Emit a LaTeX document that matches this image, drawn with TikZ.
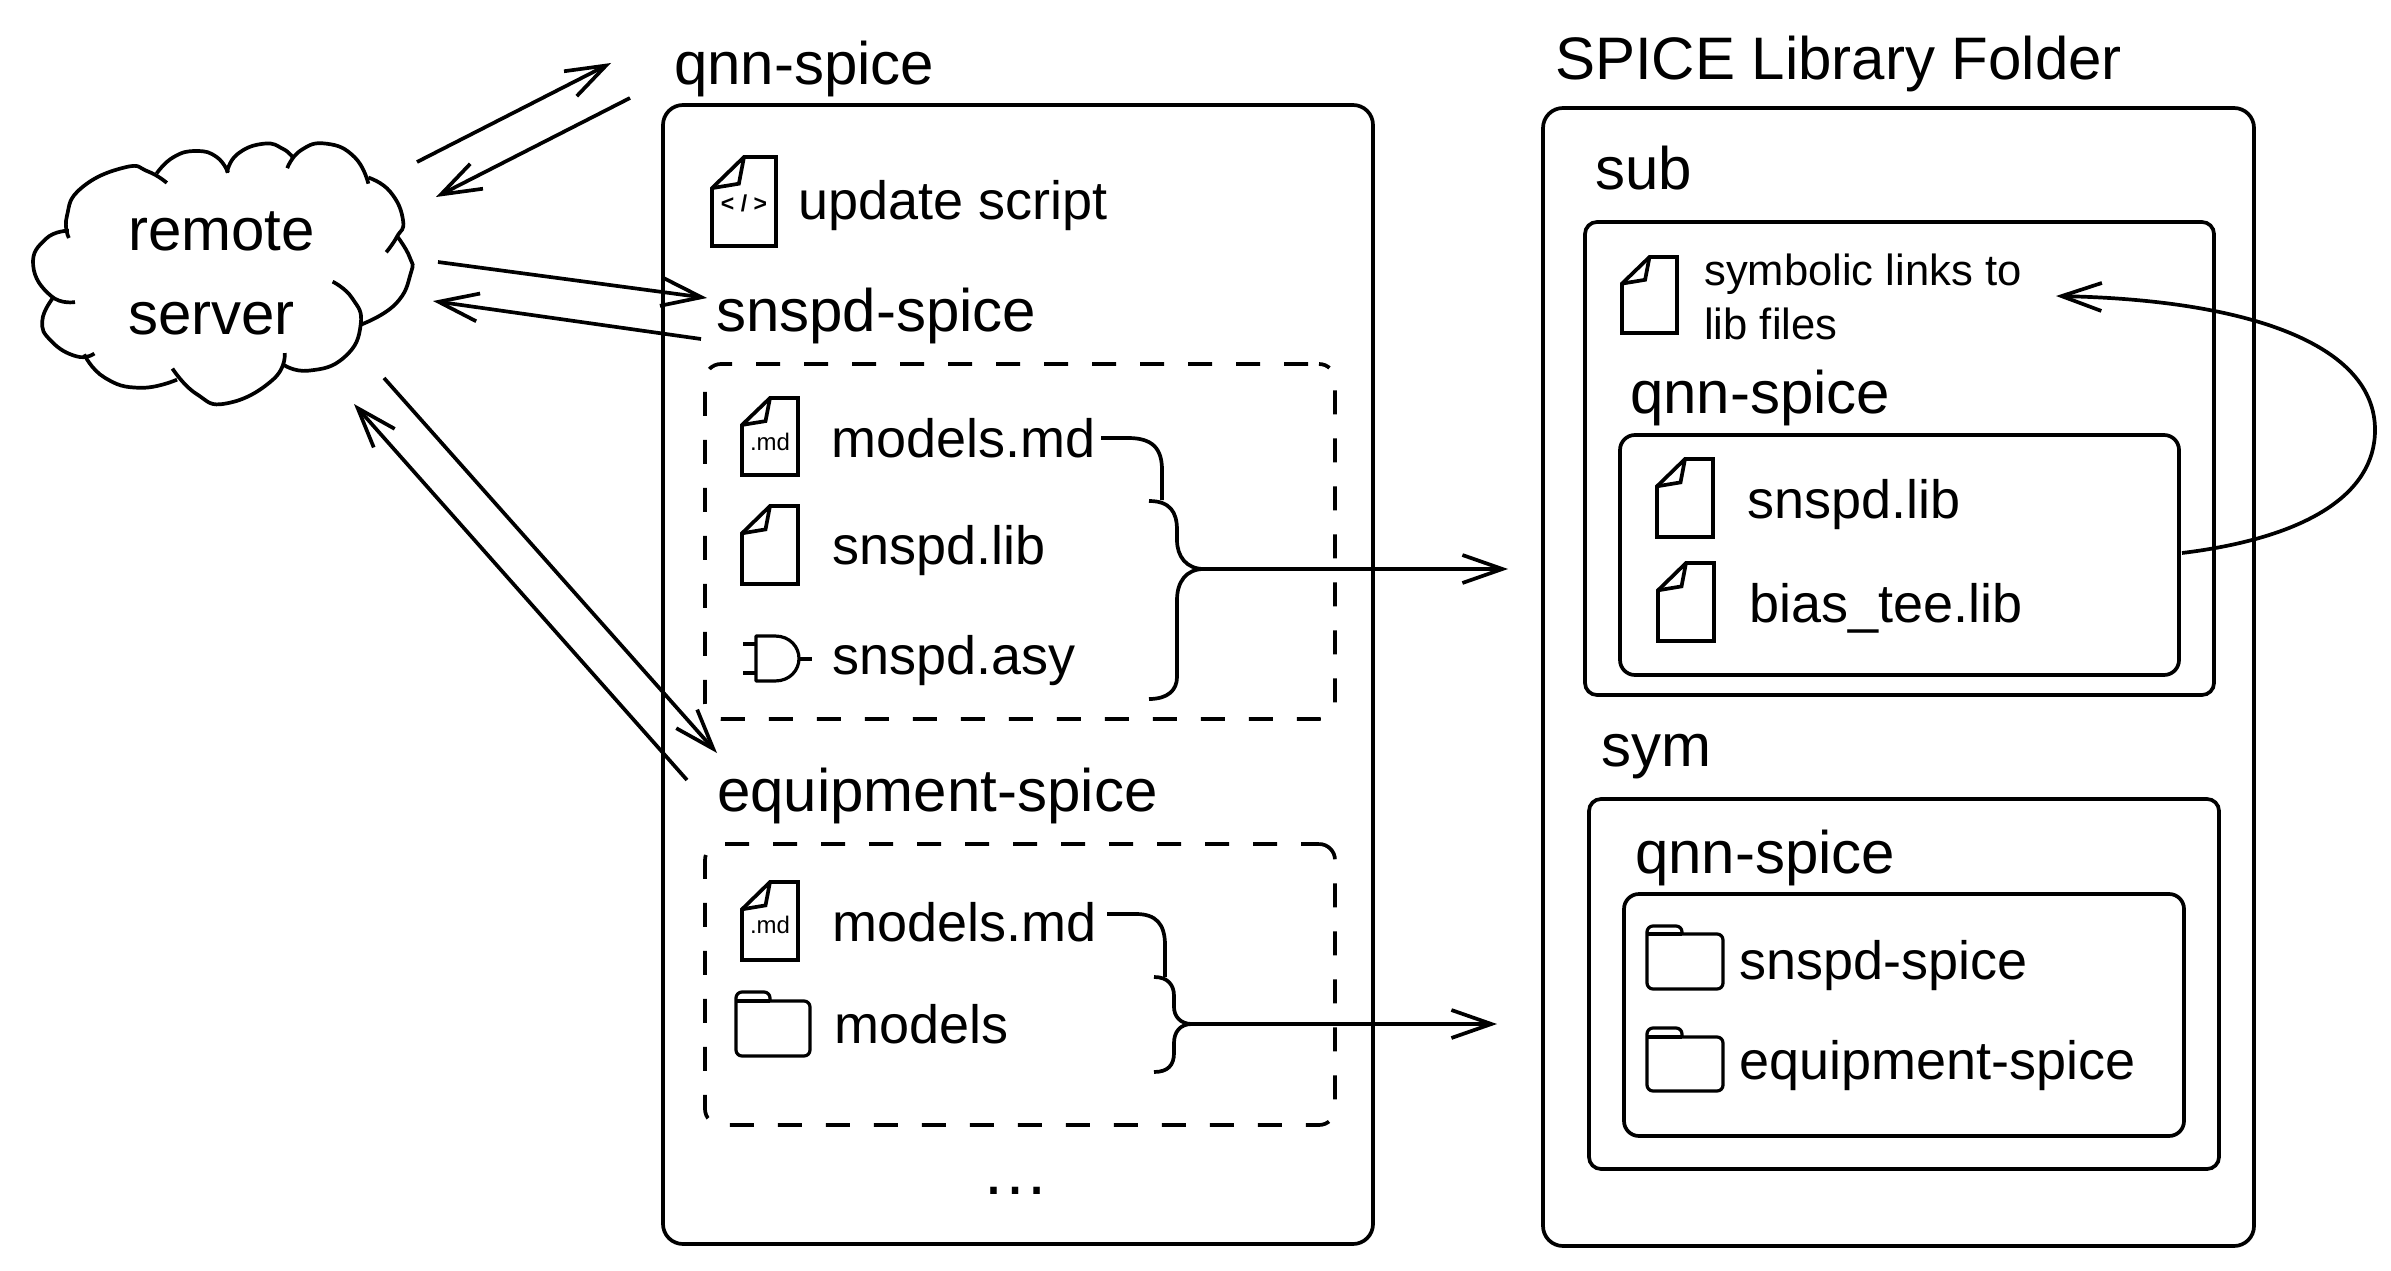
\documentclass[tikz,border=0pt]{standalone}
\usepackage{fontspec}
\setmainfont{Liberation Sans}
\usetikzlibrary{arrows.meta,fit}
\tikzset{
  x=1pt,y=-1pt,
  ln/.style={line width=3.7pt,line join=round},
  solidbox/.style={draw,line width=3.7pt,inner sep=0pt,rounded corners=#1},
  solidbox/.default=12pt,
  dashbox/.style={draw,line width=3.7pt,inner sep=0pt,rounded corners=16pt,dash pattern=on 24pt off 24pt,dash phase=#1},
  big/.style={anchor=base west,inner sep=0pt,yshift=-1.5pt,font=\fontsize{60}{72}\selectfont},
  mid/.style={anchor=base west,inner sep=0pt,yshift=-1.5pt,font=\fontsize{54}{64}\selectfont},
  small/.style={anchor=base west,inner sep=0pt,yshift=-1.5pt,font=\fontsize{43.6}{54}\selectfont,align=left},
  tiny/.style={anchor=base,inner sep=0pt,font=\fontsize{24}{28}\selectfont},
  openarrow/.style={ln,-{Straight Barb[length=40pt,width=28pt,line width=3.7pt]}},
  iconline/.style={line width=3.7pt,line join=miter},
}
\newcommand{\fileicon}[4]{%
  \begin{scope}[shift={(#1,#2)},xscale=#3,yscale=#4]
    \draw[iconline] (0,.35)--(.5,0)--(1,0)--(1,1)--(0,1)--cycle;
    \draw[iconline] (.5,0)--(.42,.3)--(0,.35);
  \end{scope}}
\newcommand{\foldericon}[6]{%
  \draw[line width=3.2pt,rounded corners=6pt] (#5,#6)--(#5,#2)--(#1,#2)--(#1,#4)--(#3,#4)--(#3,#6)--(#5,#6);
  \draw[line width=3.2pt] (#1,#6)--(#5,#6);}
\begin{document}
\begin{tikzpicture}
\useasboundingbox[fill=white] (0,0) rectangle (2391,1271);

% cloud
\begin{scope}[xscale=0.5102,yscale=0.4082,line width=3.7pt]
\draw plot[smooth,tension=0.85] coordinates {(135,583)(131,530)(160,460)(245,410)(290,420)(327,448)};
\draw plot[smooth,tension=0.85] coordinates {(307,425)(340,385)(385,370)(425,385)(447,423)};
\draw plot[smooth,tension=0.85] coordinates {(445,423)(465,378)(517,352)(555,365)(575,388)};
\draw plot[smooth,tension=0.85] coordinates {(563,412)(590,368)(640,352)(695,385)(722,450)};
\draw plot[smooth,tension=0.85] coordinates {(722,435)(765,470)(790,540)(778,580)(757,618)};
\draw plot[smooth,tension=0.85] coordinates {(778,578)(803,630)(805,670)(775,745)(708,795)};
\draw plot[smooth,tension=0.85] coordinates {(652,690)(690,730)(707,795)(675,875)(605,908)(555,893)};
\draw plot[smooth,tension=0.85] coordinates {(558,865)(535,930)(445,988)(385,965)(338,903)};
\draw plot[smooth,tension=0.85] coordinates {(347,930)(275,950)(205,925)(165,868)};
\draw plot[smooth,tension=0.85] coordinates {(185,866)(150,873)(100,835)(83,785)(105,728)};
\draw plot[smooth,tension=0.85] coordinates {(147,740)(100,725)(65,650)(90,585)(135,565)};
\end{scope}
\node[big] (remote) at (128,249) {remote};
\node[big] (server) at (128,333) {server};

% boxes
\node[solidbox=20pt,fit={(663,105)(1373,1244)}] (mainbox) {};
\node[dashbox=37pt,fit={(705,364)(1335,719)}] (dashone) {};
\node[dashbox=6pt,fit={(705,844)(1335,1125)}] (dashtwo) {};
\node[solidbox=20pt,fit={(1543,108)(2254,1246)}] (libbox) {};
\node[solidbox=12pt,fit={(1585,222)(2214,695)}] (subbox) {};
\node[solidbox=15pt,fit={(1620,435)(2179,675)}] (subqnn) {};
\node[solidbox=12pt,fit={(1589,799)(2219,1169)}] (symbox) {};
\node[solidbox=15pt,fit={(1624,894)(2184,1136)}] (symqnn) {};

% titles
\node[big] (qnntitle) at (674,83) {qnn-spice};
\node[big] (libtitle) at (1555,78) {SPICE Library Folder};
\node[big] (subtitle) at (1595,188) {sub};
\node[big] (symtitle) at (1601,765) {sym};
\node[big] (subqnntitle) at (1630,412) {qnn-spice};
\node[big] (symqnntitle) at (1635,872) {qnn-spice};
\node[big] (snspdtitle) at (716,330) {snspd-spice};
\node[big] (equiptitle) at (717,810) {equipment-spice};

% left column
\fileicon{712}{157}{64}{89}
\node[anchor=base,inner sep=0pt,font=\fontsize{23}{28}\selectfont\bfseries] (code) at (744,211) {< / >};
\node[mid] (update) at (798,218) {update script};

\fileicon{742}{398}{56}{77}
\node[tiny] (mdone) at (770,450) {.md};
\node[mid] (modelsone) at (831,456) {models.md};
\fileicon{742}{506}{56}{78}
\node[mid] (libone) at (832,563) {snspd.lib};
\draw[line width=3.2pt,line join=round] (756,636)--(775,636) .. controls (790,636) and (799,647) .. (799,658.5) .. controls (799,670) and (790,681) .. (775,681)--(756,681)--cycle;
\draw[line width=3.2pt] (743,644)--(756,644) (743,673)--(756,673) (799,659)--(812,659);
\node[mid] (asy) at (832,673) {snspd.asy};

\fileicon{742}{882}{56}{78}
\node[tiny] (mdtwo) at (770,933) {.md};
\node[mid] (modelstwo) at (832,940) {models.md};
\foldericon{736}{992}{810}{1056}{770}{1001}
\node[mid] (modelsfolder) at (834,1042) {models};
\node[anchor=base,inner sep=0pt,font=\fontsize{68}{72}\selectfont] (dots) at (1015,1194) {…};

% right column
\fileicon{1622}{257}{55}{76}
\node[small] (symlinks) at (1704,338) {symbolic links to\\lib files};
\fileicon{1657}{459}{56}{78}
\node[mid] (libsnspd) at (1747,517) {snspd.lib};
\fileicon{1658}{563}{56}{78}
\node[mid] (libbias) at (1749,621) {bias\_tee.lib};
\foldericon{1647}{926}{1723}{989}{1682}{934}
\node[mid] (foldsnspd) at (1739,978) {snspd-spice};
\foldericon{1647}{1028}{1723}{1091}{1682}{1037}
\node[mid] (foldequip) at (1739,1078) {equipment-spice};

% connector ends
\coordinate (a1s) at (417,162); \coordinate (a1e) at (611,63);
\coordinate (a2s) at (630,98); \coordinate (a2e) at (436,197);
\coordinate (a3s) at (438,262); \coordinate (a3e) at (707,298);
\coordinate (a4s) at (701,339); \coordinate (a4e) at (433,301);
\coordinate (a5s) at (384,378); \coordinate (a5e) at (717,753);
\coordinate (a6s) at (687,780); \coordinate (a6e) at (354,404);
\draw[openarrow] (a1s)--(a1e);
\draw[openarrow] (a2s)--(a2e);
\draw[openarrow] (a3s)--(a3e);
\draw[openarrow] (a4s)--(a4e);
\draw[openarrow] (a5s)--(a5e);
\draw[openarrow] (a6s)--(a6e);

% braces
\coordinate (bonetip) at (1204,569); \coordinate (bonee) at (1508,569);
\draw[ln] (1101,438)--(1128,438) .. controls (1152,438) and (1162,448) .. (1162,470)--(1162,500);
\draw[ln] (1149,501) .. controls (1170,501) and (1177,512) .. (1177,530)--(1177,540) .. controls (1177,556) and (1186,569) .. (bonetip);
\draw[ln] (bonetip) .. controls (1186,569) and (1177,582) .. (1177,600)--(1177,677) .. controls (1177,690) and (1168,699) .. (1149,699);
\draw[openarrow] (bonetip)--(bonee);

\coordinate (btwotip) at (1192,1024); \coordinate (btwoe) at (1497,1024);
\draw[ln] (1107,914)--(1136,914) .. controls (1156,914) and (1165,924) .. (1165,945)--(1165,977);
\draw[ln] (1154,977) .. controls (1168,977) and (1174,985) .. (1174,996)--(1174,1007) .. controls (1174,1016) and (1180,1024) .. (btwotip);
\draw[ln] (btwotip) .. controls (1180,1024) and (1174,1032) .. (1174,1043)--(1174,1053) .. controls (1174,1065) and (1168,1072) .. (1154,1072);
\draw[openarrow] (btwotip)--(btwoe);

% curved arrow
\coordinate (cs) at (2182,553); \coordinate (cm) at (2375,430); \coordinate (ce) at (2056,296);
\draw[openarrow] (cs) .. controls (2305,538) and (2375,495) .. (cm) .. controls (2375,345) and (2250,300) .. (ce);
\end{tikzpicture}
\end{document}
